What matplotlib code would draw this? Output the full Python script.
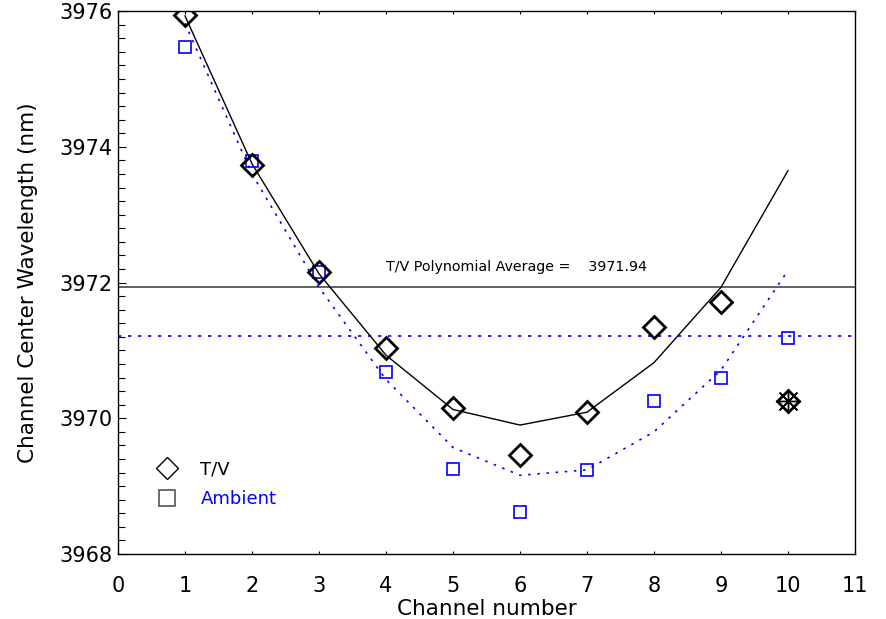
import matplotlib
matplotlib.use("Agg")
import matplotlib.pyplot as plt
from matplotlib.lines import Line2D
from matplotlib.ticker import MultipleLocator

channels = [1, 2, 3, 4, 5, 6, 7, 8, 9, 10]
tv_meas = [3975.94, 3973.74, 3972.15, 3971.03, 3970.15, 3969.46, 3970.09, 3971.35, 3971.71, 3970.25]
amb_meas = [3975.47, 3973.79, 3972.15, 3970.68, 3969.25, 3968.62, 3969.24, 3970.26, 3970.60, 3971.19]
tv_fit = [3975.93, 3973.75, 3972.13, 3970.93, 3970.13, 3969.90, 3970.09, 3970.82, 3971.93, 3973.65]
amb_fit = [3975.82, 3973.60, 3971.93, 3970.57, 3969.57, 3969.16, 3969.24, 3969.80, 3970.71, 3972.18]
tv_avg = 3971.94
amb_avg = 3971.22
flag_channel = 10
flag_value = 3970.25
xticks = list(range(0, 12))
yticks = [3968, 3970, 3972, 3974, 3976]

plt.rcParams['font.family'] = ['DejaVu Sans']
fig = plt.figure(figsize=(8.86, 6.19), dpi=100)
ax = fig.add_axes([0.1332, 0.105, 0.965 - 0.1332, 0.982 - 0.105])

blue = '#0000ff'
ax.axhline(tv_avg, color='#555555', lw=1.3)
ax.axhline(amb_avg, color=blue, lw=1.2, ls=(0, (2, 4)))
ax.plot(channels, tv_fit, color='black', lw=1.0)
ax.plot(channels, amb_fit, color=blue, lw=1.2, ls=(0, (1.5, 4)))
ax.plot(channels, amb_meas, ls='none', marker='s', ms=8.5, mfc='none', mec=blue, mew=1.2)
ax.plot(channels, tv_meas, ls='none', marker='D', ms=11, mfc='none', mec='black', mew=2.0)
ax.plot([flag_channel], [flag_value], ls='none', marker=(8, 2, 0), ms=18, mec='black', mew=1.0)

ax.annotate('T/V Polynomial Average =    %.2f' % tv_avg, xy=(4.0, tv_avg), xytext=(0, 9),
            textcoords='offset points', fontsize=10.3, ha='left', va='bottom')

ax.set_xlim(0, 11)
ax.set_ylim(3968, 3976)
ax.set_xticks(xticks)
ax.set_yticks(yticks)
ax.yaxis.set_minor_locator(MultipleLocator(0.2))
ax.tick_params(axis='x', which='major', direction='in', length=2, width=0.8, top=True,
               labelsize=15, pad=16)
ax.tick_params(axis='y', which='major', direction='in', length=5.5, width=0.8, labelsize=15, pad=4)
ax.tick_params(axis='y', which='minor', direction='in', length=5, width=0.8)
for s in ax.spines.values():
    s.set_linewidth(1.0)

ax.set_xlabel('Channel number', fontsize=15.5, labelpad=2)
ax.set_ylabel('Channel Center Wavelength (nm)', fontsize=15.5, labelpad=15)

handles = [Line2D([], [], ls='none', marker='D', ms=11, mfc='none', mec='black', mew=1.0),
           Line2D([], [], ls='none', marker='s', ms=12, mfc='none', mec='#555555', mew=1.2)]
leg = ax.legend(handles, ['T/V', 'Ambient'], loc='lower left', bbox_to_anchor=(0.02, 0.055),
                frameon=False, fontsize=13, handletextpad=0.85, labelspacing=0.65)
leg.get_texts()[1].set_color(blue)

fig.savefig('out.png', dpi=100)
